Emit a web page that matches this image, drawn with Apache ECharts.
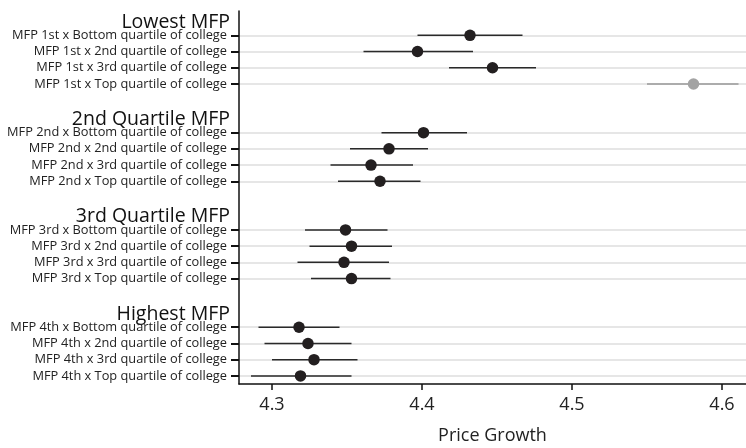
<!DOCTYPE html>
<html>
<head>
<meta charset="utf-8">
<script src="https://cdn.jsdelivr.net/npm/echarts@6/dist/echarts.min.js"></script>
<style>
  html, body { margin: 0; padding: 0; background: #fff; }
  #chart { width: 746px; height: 448px; }
</style>
</head>
<body>
<div id="chart"></div>
<script>
// Group headings (one per MFP quartile) and the rows listed under each
const groupHeaders = ['Lowest MFP', '2nd Quartile MFP', '3rd Quartile MFP', 'Highest MFP'];
const rowLabels = [
  ['MFP 1st x Bottom quartile of college', 'MFP 1st x 2nd quartile of college', 'MFP 1st x 3rd quartile of college', 'MFP 1st x Top quartile of college'],
  ['MFP 2nd x Bottom quartile of college', 'MFP 2nd x 2nd quartile of college', 'MFP 2nd x 3rd quartile of college', 'MFP 2nd x Top quartile of college'],
  ['MFP 3rd x Bottom quartile of college', 'MFP 3rd x 2nd quartile of college', 'MFP 3rd x 3rd quartile of college', 'MFP 3rd x Top quartile of college'],
  ['MFP 4th x Bottom quartile of college', 'MFP 4th x 2nd quartile of college', 'MFP 4th x 3rd quartile of college', 'MFP 4th x Top quartile of college']
];

// Point estimates and interval bounds, per group
const estimates = [
  [4.432, 4.397, 4.447, 4.581],
  [4.401, 4.378, 4.366, 4.372],
  [4.349, 4.353, 4.348, 4.353],
  [4.318, 4.324, 4.328, 4.319]
];
const lower = [
  [4.397, 4.361, 4.418, 4.550],
  [4.373, 4.352, 4.339, 4.344],
  [4.322, 4.325, 4.317, 4.326],
  [4.291, 4.295, 4.300, 4.286]
];
const upper = [
  [4.467, 4.434, 4.476, 4.611],
  [4.430, 4.404, 4.394, 4.399],
  [4.377, 4.380, 4.378, 4.379],
  [4.345, 4.353, 4.357, 4.353]
];

// Rows drawn in grey instead of black
const mutedRows = ['MFP 1st x Top quartile of college'];

// Axis ticks
const xTicks = [4.3, 4.4, 4.5, 4.6];

// Build the category list: header, rows, then a blank spacer between groups
const categories = [];
const headerSet = new Set(groupHeaders);
const rowSet = new Set();
groupHeaders.forEach((h, g) => {
  if (g > 0) categories.push('');
  categories.push(h);
  rowLabels[g].forEach(r => { categories.push(r); rowSet.add(r); });
});
const isRow = (i) => rowSet.has(categories[i]);

const barData = [];
const pointData = [];
rowLabels.forEach((rows, g) => {
  rows.forEach((r, i) => {
    barData.push([lower[g][i], upper[g][i], r]);
    pointData.push([estimates[g][i], r]);
  });
});

const FONT = '"Open Sans", sans-serif';
const chart = echarts.init(document.getElementById('chart'));

chart.setOption({
  animation: false,
  backgroundColor: '#fff',
  grid: { left: 239, right: 0, top: 11, bottom: 64, outerBoundsMode: 'none', containLabel: false },
  xAxis: {
    type: 'value',
    min: 4.278,
    max: 4.616,
    name: 'Price Growth',
    nameLocation: 'middle',
    nameGap: 43,
    nameTextStyle: { fontFamily: FONT, fontSize: 18, color: '#222' },
    axisLine: { show: true, lineStyle: { color: '#111', width: 1.5 } },
    axisTick: { show: true, length: 6, customValues: xTicks, lineStyle: { color: '#111', width: 1.5 } },
    axisLabel: {
      customValues: xTicks,
      formatter: v => v.toFixed(1),
      fontFamily: FONT, fontSize: 18, color: '#222', margin: 12
    },
    splitLine: { show: false }
  },
  yAxis: {
    type: 'category',
    inverse: true,
    data: categories,
    axisLine: { show: true, lineStyle: { color: '#111', width: 1.5 } },
    axisTick: {
      show: true, length: 8, alignWithLabel: true,
      interval: (i) => isRow(i),
      lineStyle: { color: '#111', width: 2 }
    },
    splitLine: {
      show: true, alignWithLabel: true,
      interval: (i) => isRow(i),
      lineStyle: { color: '#e6e6e6', width: 2 }
    },
    axisLabel: {
      interval: 0,
      margin: 12,
      formatter: v => headerSet.has(v) ? '{h|' + v + '}' : (v ? '{r|' + v + '}' : ''),
      rich: {
        h: { fontFamily: FONT, fontSize: 19.5, color: '#111', padding: [6, -3, 0, 0] },
        r: { fontFamily: FONT, fontSize: 12.8, color: '#222' }
      }
    }
  },
  series: [
    {
      type: 'custom',
      encode: { x: [0, 1], y: 2 },
      data: barData,
      renderItem: (params, api) => {
        const yIdx = api.value(2);
        const a = api.coord([api.value(0), yIdx]);
        const b = api.coord([api.value(1), yIdx]);
        const muted = mutedRows.includes(barData[params.dataIndex][2]);
        return {
          type: 'line',
          shape: { x1: a[0], y1: a[1], x2: b[0], y2: b[1] },
          style: { stroke: muted ? '#999' : '#2a2a2a', lineWidth: 1.5 }
        };
      },
      z: 2
    },
    {
      type: 'scatter',
      data: pointData,
      symbol: 'circle',
      symbolSize: 11.5,
      itemStyle: {
        opacity: 1,
        color: (p) => mutedRows.includes(p.data[1]) ? '#a3a3a3' : '#231f20'
      },
      z: 3
    }
  ]
});
</script>
</body>
</html>
